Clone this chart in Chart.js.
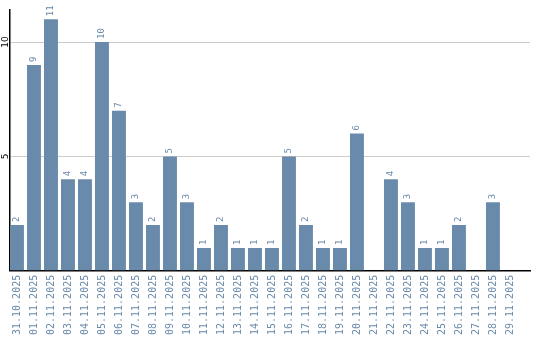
<!DOCTYPE html>
<html>
<head>
<meta charset="utf-8">
<script src="https://cdn.jsdelivr.net/npm/chart.js@4/dist/chart.umd.min.js"></script>
<style>
  html, body { margin: 0; padding: 0; background: #fff; }
  #wrap { width: 540px; height: 340px; }
</style>
</head>
<body>
<div id="wrap"><canvas id="chart"></canvas></div>
<script>
// dates on the x axis
const categories = [
  '31.10.2025', '01.11.2025', '02.11.2025', '03.11.2025', '04.11.2025',
  '05.11.2025', '06.11.2025', '07.11.2025', '08.11.2025', '09.11.2025',
  '10.11.2025', '11.11.2025', '12.11.2025', '13.11.2025', '14.11.2025',
  '15.11.2025', '16.11.2025', '17.11.2025', '18.11.2025', '19.11.2025',
  '20.11.2025', '21.11.2025', '22.11.2025', '23.11.2025', '24.11.2025',
  '25.11.2025', '26.11.2025', '27.11.2025', '28.11.2025', '29.11.2025'
];
const counts = [2, 9, 11, 4, 4, 10, 7, 3, 2, 5, 3, 1, 2, 1, 1, 1, 5, 2, 1, 1, 6, 0, 4, 3, 1, 1, 2, 0, 3, 0];
const yTickValues = [5, 10];

const barColor = '#6a8aab';

// value labels above the bars, written bottom-to-top
const valueLabels = {
  id: 'valueLabels',
  afterDatasetsDraw(chart) {
    const ctx = chart.ctx;
    const meta = chart.getDatasetMeta(0);
    ctx.save();
    ctx.font = '9px "DejaVu Sans Mono"';
    ctx.fillStyle = barColor;
    ctx.textAlign = 'left';
    ctx.textBaseline = 'middle';
    meta.data.forEach((bar, i) => {
      if (!counts[i]) return;
      ctx.save();
      ctx.translate(bar.x, bar.y - 3);
      ctx.rotate(-Math.PI / 2);
      ctx.fillText(String(counts[i]), 0, 0);
      ctx.restore();
    });
    ctx.restore();
  }
};

// y tick labels are rotated too, chart.js can't do that on a vertical axis
const yLabels = {
  id: 'yLabels',
  afterDraw(chart) {
    const ctx = chart.ctx;
    const y = chart.scales.y;
    ctx.save();
    ctx.font = '9px "DejaVu Sans"';
    ctx.fillStyle = '#000';
    ctx.textAlign = 'center';
    ctx.textBaseline = 'middle';
    yTickValues.forEach(v => {
      ctx.save();
      ctx.translate(chart.chartArea.left - 4, y.getPixelForValue(v));
      ctx.rotate(-Math.PI / 2);
      ctx.fillText(String(v), 0, 0);
      ctx.restore();
    });
    ctx.restore();
  }
};

new Chart(document.getElementById('chart'), {
  type: 'bar',
  data: {
    datasets: [{
      data: counts.map((v, i) => ({ x: i, y: v })),
      backgroundColor: barColor,
      barPercentage: 0.82,
      categoryPercentage: 1
    }]
  },
  options: {
    responsive: true,
    maintainAspectRatio: false,
    animation: false,
    layout: { padding: { left: 10, right: 10, top: 10, bottom: 1 } },
    plugins: {
      legend: { display: false },
      tooltip: { enabled: false }
    },
    scales: {
      x: {
        type: 'linear',
        min: -0.41,
        max: 30.18,
        offset: false,
        afterBuildTicks: scale => {
          scale.ticks = categories.map((c, i) => ({ value: i }));
        },
        afterFit: scale => {
          // rotated labels would otherwise push the plot inwards
          scale.paddingLeft = 0;
          scale.paddingRight = 0;
        },
        grid: { display: false, drawTicks: false, offset: false },
        border: { color: '#000', width: 1.5 },
        ticks: {
          autoSkip: false,
          minRotation: 90,
          maxRotation: 90,
          padding: 4,
          color: barColor,
          font: { family: 'DejaVu Sans Mono', size: 10 },
          callback: v => categories[v] || ''
        }
      },
      y: {
        min: 0,
        max: 11.4,
        afterBuildTicks: scale => {
          scale.ticks = [0, ...yTickValues].map(v => ({ value: v }));
        },
        grid: { color: '#cccccc', drawTicks: false },
        border: { color: '#000', width: 1.5 },
        ticks: { display: false }
      }
    }
  },
  plugins: [valueLabels, yLabels]
});
</script>
</body>
</html>
